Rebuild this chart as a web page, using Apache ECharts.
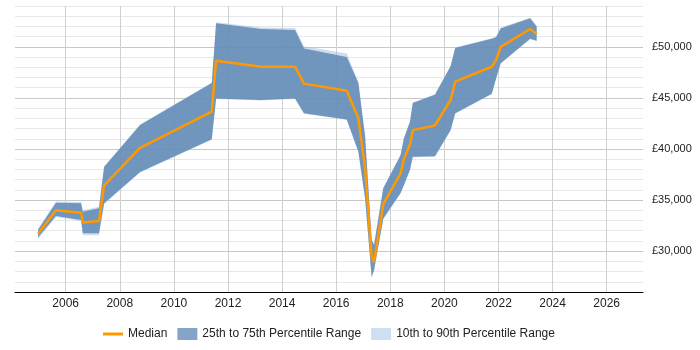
<!DOCTYPE html>
<html lang="en">
<head>
  <meta charset="UTF-8">
  <title>Salary percentiles</title>
  <script src="https://cdn.jsdelivr.net/npm/echarts@6/dist/echarts.min.js"></script>
</head>
<body style="margin:0">
  <div id="app" style="width: 700px; height: 350px;"></div>
  <script>
    // x positions (decimal years) shared by every series
    var years = [2004.98, 2005.64, 2006.57, 2006.63, 2007.23, 2007.42, 2008.75, 2011.40, 2011.56, 2013.22,
      2014.48, 2014.81, 2016.39, 2016.82, 2017.07, 2017.31, 2017.40, 2017.74, 2018.38, 2018.50,
      2018.73, 2018.83, 2019.65, 2020.23, 2020.40, 2021.75, 2021.91, 2022.08, 2023.17, 2023.41]
    var p10 = [31200, 33350, 32950, 31550, 31550, 34600, 37700, 40900, 44900, 44750,
      44900, 43450, 42850, 39650, 35050, 27400, 28050, 33100, 35650, 36400,
      37950, 39200, 39250, 41800, 43450, 45350, 46850, 48350, 50750, 50550]
    var p25 = [31350, 33450, 33050, 31750, 31750, 34700, 37750, 40950, 44950, 44800,
      44950, 43500, 42900, 39750, 35150, 27500, 28150, 33200, 35700, 36450,
      38000, 39250, 39300, 41850, 43500, 45400, 46900, 48400, 50800, 50600]
    var median = [31700, 34000, 33750, 32800, 32950, 36450, 40100, 43650, 48650, 48050,
      48050, 46400, 45700, 43000, 38100, 29450, 28950, 34600, 37600, 39000,
      40450, 41850, 42300, 44800, 46600, 48050, 48700, 50000, 51750, 51250]
    var p75 = [32100, 34750, 34700, 33850, 34200, 38250, 42350, 46450, 52300, 51750,
      51650, 49850, 49000, 46450, 41200, 31100, 30600, 36150, 39400, 41000,
      42700, 44500, 45300, 48100, 49900, 50800, 50950, 51800, 52800, 52000]
    var p90 = [32200, 34850, 34800, 34000, 34350, 38300, 42400, 46500, 52400, 51900,
      51850, 50050, 49350, 46550, 41300, 31200, 30700, 36200, 39450, 41050,
      42750, 44550, 45350, 48150, 49950, 50850, 51000, 51900, 52850, 52050]
    var yLabels = [30000, 35000, 40000, 45000, 50000]

    function pts(vals) {
      return years.map(function (y, i) { return [y, vals[i]] })
    }
    function rows(lo, hi) {
      return years.map(function (y, i) { return [y, lo[i], hi[i]] })
    }

    // one polygon per band: lower edge left->right, upper edge right->left
    function bandRenderer(fill) {
      return function (params, api) {
        if (params.dataIndex !== 0) return
        var n = params.dataInsideLength
        var poly = []
        for (var i = 0; i < n; i++) poly.push(api.coord([years[i], api.value(1, i)]))
        for (var j = n - 1; j >= 0; j--) poly.push(api.coord([years[j], api.value(2, j)]))
        return {
          type: 'polygon',
          shape: { points: poly },
          style: { fill: fill }
        }
      }
    }

    var chart = echarts.init(document.getElementById('app'))
    var option = {
      animation: false,
      grid: { left: 15, right: 57, top: 6, bottom: 58 },
      legend: {
        left: 98, top: 323,
        itemWidth: 20, itemHeight: 12, itemGap: 10,
        textStyle: { fontFamily: 'Liberation Sans, Arial', fontSize: 12, color: '#222' },
        data: [
          { name: 'Median', icon: 'path://M0 0H20V3H0Z' },
          { name: '25th to 75th Percentile Range', icon: 'rect' },
          { name: '10th to 90th Percentile Range', icon: 'rect' }
        ]
      },
      xAxis: {
        type: 'value',
        min: 2004.126, max: 2027.342,
        splitNumber: 10, minInterval: 2, maxInterval: 2,
        axisLine: { lineStyle: { color: '#000', width: 1 } },
        axisTick: { show: false },
        axisLabel: {
          margin: 6, showMinLabel: false, showMaxLabel: false,
          fontFamily: 'Liberation Sans, Arial', fontSize: 12, color: '#222',
          formatter: function (v) { return v % 2 === 0 ? String(v) : '' }
        },
        splitLine: { show: true, showMinLine: false, showMaxLine: false, lineStyle: { color: '#d0d0d0' } }
      },
      yAxis: {
        type: 'value', position: 'right',
        min: 26000, max: 54000, interval: 1000,
        axisLine: { show: false },
        axisTick: { show: false },
        axisLabel: {
          margin: 9,
          fontFamily: 'Liberation Sans, Arial', fontSize: 11, color: '#222',
          formatter: function (v) {
            return yLabels.indexOf(v) >= 0 ? '£' + v.toLocaleString('en-GB') : ''
          }
        },
        splitLine: { lineStyle: { color: ['#e8e8e8', '#e8e8e8', '#e8e8e8', '#e8e8e8', '#c8c8c8'] } }
      },
      series: [
        { name: '10th to 90th Percentile Range', type: 'custom', silent: true,
          itemStyle: { color: '#cddff0' },
          renderItem: bandRenderer('rgba(155,190,225,0.5)'),
          encode: { x: 0, y: [1, 2] }, data: rows(p10, p90) },
        { name: '25th to 75th Percentile Range', type: 'custom', silent: true,
          itemStyle: { color: '#85a4c8' },
          renderItem: bandRenderer('rgba(96,137,180,0.85)'),
          encode: { x: 0, y: [1, 2] }, data: rows(p25, p75) },
        { name: 'Median', type: 'line', symbol: 'none', silent: true, z: 5,
          itemStyle: { color: '#ff9900' }, lineStyle: { color: '#ff9900', width: 2.5 },
          data: pts(median) }
      ]
    }
    chart.setOption(option)
  </script>
</body>
</html>
